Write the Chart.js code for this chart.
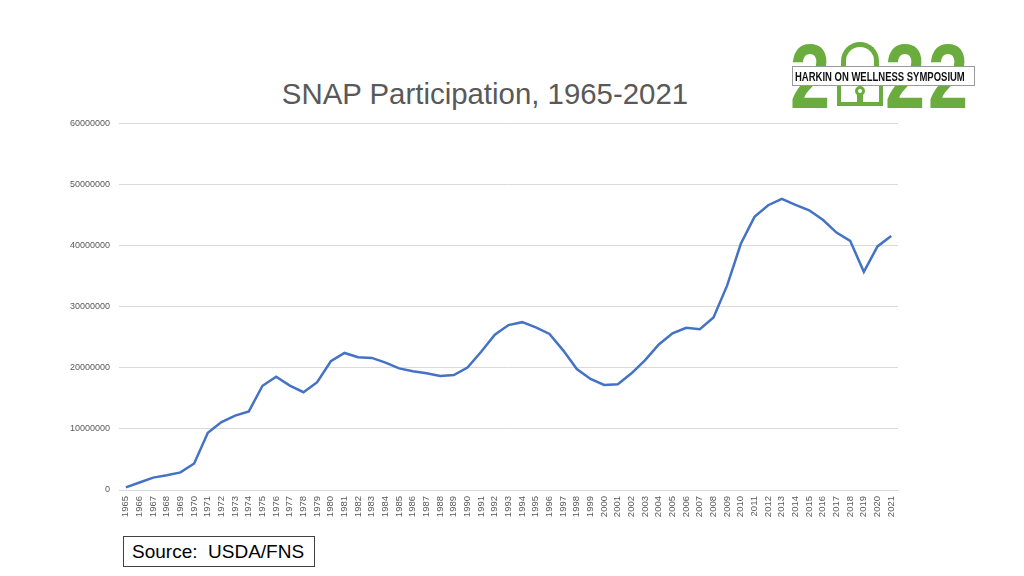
<!DOCTYPE html>
<html>
<head>
<meta charset="utf-8">
<script src="https://cdn.jsdelivr.net/npm/chart.js@4/dist/chart.umd.min.js"></script>
<style>
  html, body { margin:0; padding:0; background:#fff; }
  body { width:1024px; height:576px; position:relative; overflow:hidden; font-family:"Liberation Sans", Arial, sans-serif; }
  #title { position:absolute; left:0; width:970px; top:79px; text-align:center; font-size:29.4px; line-height:29px; color:#595959; white-space:nowrap; }
  #wrap { position:absolute; left:0; top:109px; width:915px; height:421px; }
  #src { position:absolute; left:123px; top:536px; width:192px; height:31px; border:1px solid #404040; font-size:19px; line-height:29px; white-space:pre; color:#000; padding-left:8px; box-sizing:border-box; }
  .dig { position:absolute; top:32px; font-weight:bold; font-size:90px; color:#6aac3e; transform:scaleX(0.8); transform-origin:left top; line-height:1; }
  #lock { position:absolute; }
  #banner { position:absolute; left:792px; top:66px; width:183px; height:20px; background:#fff; border:1px solid #9a9a9a; box-sizing:border-box; }
  #btxt { position:absolute; left:795px; top:69px; font-weight:bold; font-size:13px; color:#111; transform:scaleX(0.73); transform-origin:left top; white-space:nowrap; line-height:15px; }
</style>
</head>
<body>
<div id="title">SNAP Participation, 1965-2021</div>
<div id="wrap"><canvas id="c"></canvas></div>
<div id="src">Source:  USDA/FNS</div>

<div class="dig" style="left:790px;">2</div>
<div id="lock" style="left:837px; top:42px; width:46px; height:64px;">
  <div style="position:absolute; left:4px; top:0; width:38px; height:40px; border:5px solid #6aac3e; border-bottom:none; border-radius:19px 19px 0 0; box-sizing:border-box;"></div>
  <div style="position:absolute; left:0; top:26px; width:46px; height:38px; border:4px solid #6aac3e; box-sizing:border-box; background:#fff;"></div>
  <div style="position:absolute; left:18px; top:44px; width:10px; height:10px; border:3px solid #6aac3e; border-radius:50%; box-sizing:border-box;"></div>
  <div style="position:absolute; left:20px; top:52px; width:6px; height:10px; border:3px solid #6aac3e; border-top:none; box-sizing:border-box;"></div>
</div>
<div class="dig" style="left:885px;">2</div>
<div class="dig" style="left:928px;">2</div>
<div id="banner"></div>
<div id="btxt">HARKIN ON WELLNESS SYMPOSIUM</div>

<script>
const years = ["1965","1966","1967","1968","1969","1970","1971","1972","1973","1974","1975","1976","1977","1978","1979","1980","1981","1982","1983","1984","1985","1986","1987","1988","1989","1990","1991","1992","1993","1994","1995","1996","1997","1998","1999","2000","2001","2002","2003","2004","2005","2006","2007","2008","2009","2010","2011","2012","2013","2014","2015","2016","2017","2018","2019","2020","2021"];
const participants = [424000,1220000,2030000,2420000,2880000,4340000,9370000,11110000,12170000,12860000,17060000,18550000,17080000,16000000,17650000,21080000,22430000,21720000,21620000,20850000,19900000,19430000,19110000,18650000,18810000,20050000,22630000,25410000,26990000,27470000,26620000,25540000,22860000,19790000,18180000,17190000,17320000,19100000,21250000,23810000,25630000,26550000,26320000,28220000,33490000,40300000,44710000,46610000,47640000,46660000,45770000,44220000,42130000,40780000,35700000,39870000,41560000];
const yTicks = [0,10000000,20000000,30000000,40000000,50000000,60000000];

const tickFont = { family: "'Liberation Sans', Arial, sans-serif", size: 9 };
const xFont = { family: "'Liberation Sans', Arial, sans-serif", size: 9.5 };
new Chart(document.getElementById('c'), {
  type: 'line',
  data: { labels: years, datasets: [{ data: participants, borderColor: '#4472C4', borderWidth: 2.5, pointRadius: 0, tension: 0, fill: false }] },
  options: {
    responsive: true, maintainAspectRatio: false, animation: false,
    layout: { padding: { top: 6, right: 17, bottom: 0, left: 0 } },
    plugins: { legend: { display: false }, tooltip: { enabled: false } },
    scales: {
      x: {
        offset: true,
        grid: { display: false, drawTicks: false, offset: true },
        border: { display: true, color: '#d9d9d9', width: 1 },
        ticks: { autoSkip: false, minRotation: 90, maxRotation: 90, color: '#595959', font: xFont, padding: 6 },
        afterFit: s => { s.height = 40; }
      },
      y: {
        min: 0, max: 60000000,
        afterBuildTicks: s => { s.ticks = yTicks.map(v => ({ value: v })); },
        grid: { color: '#d9d9d9', lineWidth: 1, drawTicks: false },
        border: { display: false },
        ticks: { color: '#595959', font: tickFont, padding: 9, callback: v => String(v) },
        afterFit: s => { s.width = 119; }
      }
    }
  }
});
</script>
</body>
</html>
